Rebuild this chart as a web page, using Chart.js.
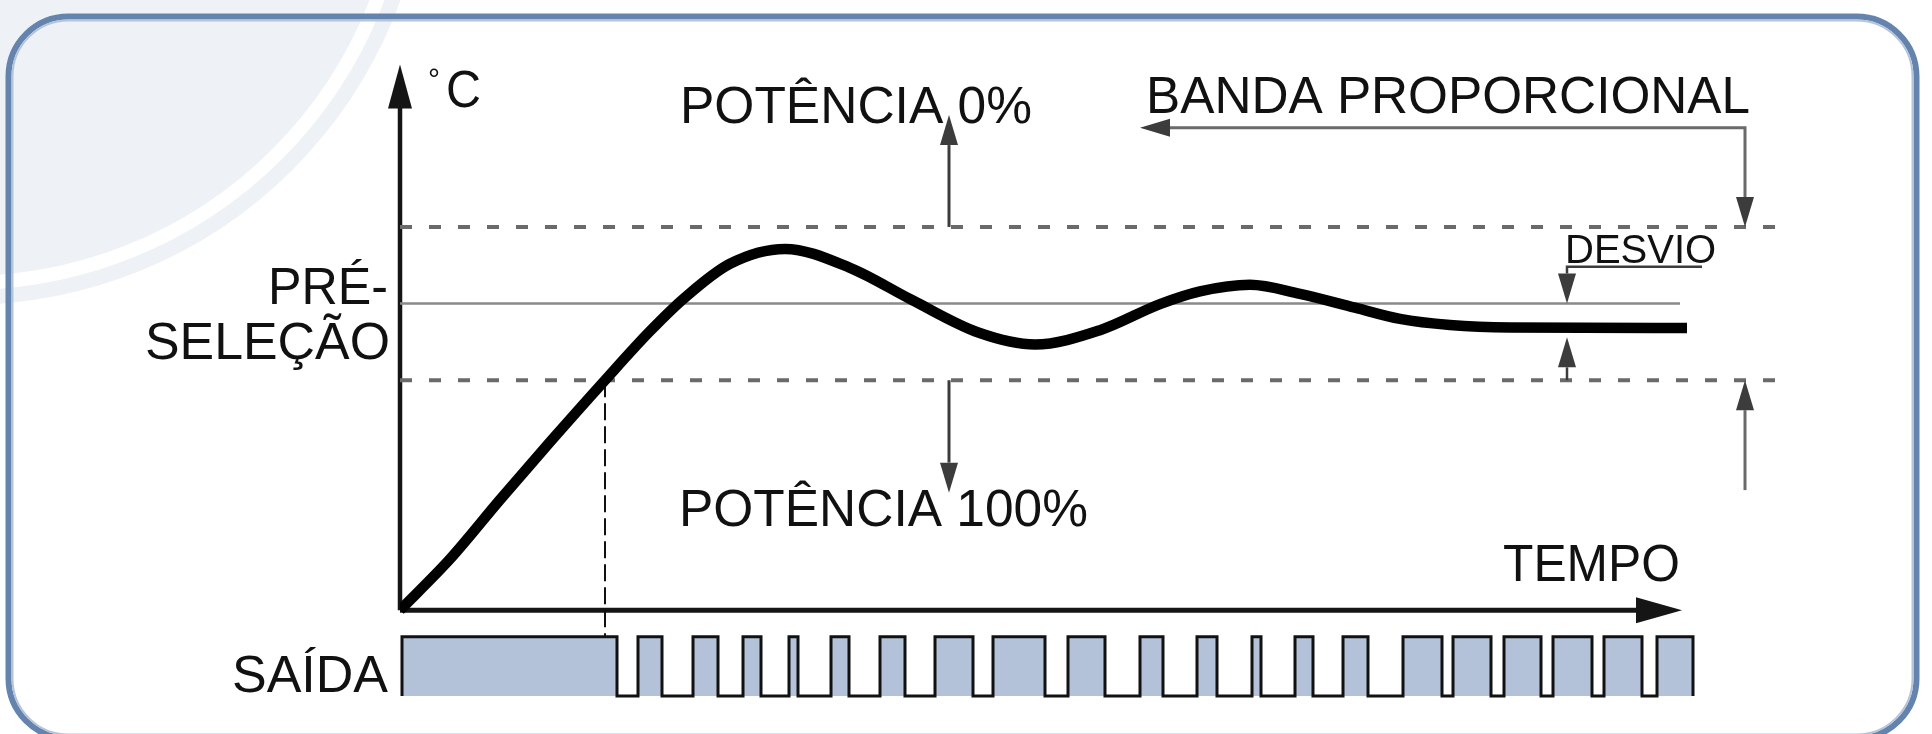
<!DOCTYPE html>
<html>
<head>
<meta charset="utf-8">
<script src="https://cdn.jsdelivr.net/npm/chart.js@4.4.1/dist/chart.umd.min.js"></script>
<style>
  html, body { margin: 0; padding: 0; background: #fff; }
  #wrap { width: 1932px; height: 734px; }
</style>
</head>
<body>
<div id="wrap"><canvas id="chart" width="1932" height="734"></canvas></div>
<script>
// Curva de temperatura (tempo em unidades arbitrárias, temperatura relativa)
const curveT = [0, 5, 10, 15, 20.5, 25, 28.5, 33, 38.5, 45, 51.2, 57.9, 63.5, 70, 76, 80, 85, 90, 95.5, 100, 105, 111, 128.7];
const curveV = [0, 10.0, 21.6, 32.9, 45, 54.6, 61.2, 67.8, 70.7, 67.0, 60.7, 54.3, 52.0, 54.8, 59.9, 62.4, 63.7, 61.9, 59.2, 57.0, 55.8, 55.3, 55.2];

// Saída: instantes em que liga / desliga
const pulseOn  = [0.2, 23.8, 29.3, 34.3, 38.9, 43.1, 48.0, 53.5, 59.3, 66.8, 74.0, 79.7, 85.2, 89.5, 94.3, 100.3, 105.3, 110.4, 115.3, 120.4, 125.7];
const pulseOff = [21.7, 26.2, 31.8, 36.1, 39.8, 44.9, 50.5, 57.3, 64.5, 70.5, 76.3, 81.7, 86.1, 91.3, 96.8, 104.2, 109.1, 114.1, 119.2, 124.2, 129.3];

// Níveis de referência
const setPoint = 60;
const bandHigh = 75;
const bandLow = 45;
const outHigh = -5.2;
const outLow = -16.8;
const crossT = 20.5;       // instante em que a curva entra na banda
const setPointEnd = 128.0;
const bandEnd = 137.8;
const timeEnd = 128.2;     // ponta da seta do eixo do tempo
const tempTop = 106.8;     // ponta da seta do eixo °C

// Textos
const labels = [
    { text: '°', t: 2.8, v: 102, size: 30 },
    { text: 'C', t: 4.6, v: 98.5, size: 52, w: 35 },
    { text: 'POTÊNCIA 0%', t: 28.0, v: 95.3, size: 52, w: 352 },
    { text: 'BANDA PROPORCIONAL', t: 74.6, v: 97.3, size: 52, w: 604 },
    { text: 'DESVIO', t: 116.5, v: 67.9, size: 40, w: 153 },
    { text: 'PRÉ-', t: -1.2, v: 59.9, size: 52, w: 120, align: 'right' },
    { text: 'SELEÇÃO', t: -1.0, v: 49.1, size: 52, w: 245, align: 'right' },
    { text: 'POTÊNCIA 100%', t: 27.9, v: 16.5, size: 52, w: 409 },
    { text: 'TEMPO', t: 128.0, v: 5.7, size: 52, w: 177, align: 'right' },
    { text: 'SAÍDA', t: -1.2, v: -16.0, size: 52, w: 167, align: 'right' }
];

const FONT = '"Liberation Sans", Arial, sans-serif';

// pontos da saída (onda quadrada)
const outPoints = [];
pulseOn.forEach((on, i) => {
    outPoints.push({ x: on, y: outLow }, { x: on, y: outHigh },
                   { x: pulseOff[i], y: outHigh }, { x: pulseOff[i], y: outLow });
});

const curvePoints = curveT.map((t, i) => ({ x: t, y: curveV[i] }));

function head(ctx, x, y, dir, len, half) {
    ctx.beginPath();
    ctx.moveTo(x, y);
    if (dir === 'up')    { ctx.lineTo(x - half, y + len); ctx.lineTo(x + half, y + len); }
    if (dir === 'down')  { ctx.lineTo(x - half, y - len); ctx.lineTo(x + half, y - len); }
    if (dir === 'left')  { ctx.lineTo(x + len, y - half); ctx.lineTo(x + len, y + half); }
    if (dir === 'right') { ctx.lineTo(x - len, y - half); ctx.lineTo(x - len, y + half); }
    ctx.closePath();
    ctx.fill();
}

function line(ctx, pts) {
    ctx.beginPath();
    ctx.moveTo(pts[0][0], pts[0][1]);
    for (let i = 1; i < pts.length; i++) ctx.lineTo(pts[i][0], pts[i][1]);
    ctx.stroke();
}

// Fundo: moldura arredondada e arco decorativo
const backdrop = {
    id: 'backdrop',
    beforeDraw(chart) {
        const ctx = chart.ctx;
        ctx.save();
        ctx.fillStyle = '#ffffff';
        ctx.fillRect(0, 0, chart.width, chart.height);
        ctx.fillStyle = '#eef1f5';
        ctx.beginPath();
        ctx.arc(-34, -157, 462, 0, Math.PI * 2);
        ctx.fill();
        ctx.strokeStyle = '#ffffff';
        ctx.lineWidth = 14;
        ctx.beginPath();
        ctx.arc(-34, -157, 440, 0, Math.PI * 2);
        ctx.stroke();

        ctx.strokeStyle = '#6584ad';
        ctx.lineWidth = 6;
        ctx.beginPath();
        ctx.roundRect(8.5, 16.5, 1908, 722, 60);
        ctx.stroke();
        ctx.strokeStyle = '#b4c4da';
        ctx.lineWidth = 2;
        ctx.beginPath();
        ctx.roundRect(12.5, 20.5, 1900, 714, 56);
        ctx.stroke();
        ctx.restore();
    }
};

// Eixos com setas
const axesArrows = {
    id: 'axesArrows',
    beforeDatasetsDraw(chart) {
        const ctx = chart.ctx;
        const X = v => chart.scales.x.getPixelForValue(v);
        const Y = v => chart.scales.y.getPixelForValue(v);
        ctx.save();
        ctx.strokeStyle = '#151515';
        ctx.fillStyle = '#151515';
        ctx.lineWidth = 4.5;
        line(ctx, [[X(0), Y(0)], [X(0), Y(tempTop) + 40]]);
        head(ctx, X(0), Y(tempTop), 'up', 44, 12);
        ctx.lineWidth = 5;
        line(ctx, [[X(0), Y(0)], [X(timeEnd) - 40, Y(0)]]);
        head(ctx, X(timeEnd), Y(0), 'right', 46, 13);
        ctx.restore();
    }
};

// Setas e textos explicativos
const notes = {
    id: 'notes',
    afterDatasetsDraw(chart) {
        const ctx = chart.ctx;
        const X = v => chart.scales.x.getPixelForValue(v);
        const Y = v => chart.scales.y.getPixelForValue(v);
        ctx.save();
        ctx.strokeStyle = '#3c3c3c';
        ctx.fillStyle = '#3c3c3c';
        ctx.lineWidth = 3;
        const L = 30, H = 9;

        // potência 0% / 100%
        line(ctx, [[X(54.9), Y(bandHigh)], [X(54.9), Y(96.9) + L]]);
        head(ctx, X(54.9), Y(96.9), 'up', L, H);
        line(ctx, [[X(54.9), Y(bandLow)], [X(54.9), Y(23.0) - L]]);
        head(ctx, X(54.9), Y(23.0), 'down', L, H);

        // banda proporcional
        ctx.strokeStyle = '#6a6a6a';
        line(ctx, [[X(74.0) + L, Y(94.4)], [X(134.5), Y(94.4)], [X(134.5), Y(bandHigh) - L]]);
        ctx.fillStyle = '#3c3c3c';
        head(ctx, X(74.0), Y(94.4), 'left', L, H);
        head(ctx, X(134.5), Y(bandHigh), 'down', L, H);
        line(ctx, [[X(134.5), Y(23.5)], [X(134.5), Y(bandLow) + L]]);
        head(ctx, X(134.5), Y(bandLow), 'up', L, H);

        // desvio
        ctx.strokeStyle = '#3c3c3c';
        ctx.lineWidth = 2.5;
        line(ctx, [[X(130.2), Y(67.2)], [X(116.7), Y(67.2)], [X(116.7), Y(setPoint) - L]]);
        head(ctx, X(116.7), Y(setPoint), 'down', L, H);
        line(ctx, [[X(116.7), Y(bandLow)], [X(116.7), Y(53.4) + L]]);
        head(ctx, X(116.7), Y(53.4), 'up', L, H);

        // textos
        ctx.fillStyle = '#111111';
        ctx.textBaseline = 'alphabetic';
        labels.forEach(lb => {
            ctx.font = lb.size + 'px ' + FONT;
            ctx.textAlign = lb.align || 'left';
            if (lb.w) ctx.fillText(lb.text, X(lb.t), Y(lb.v), lb.w);
            else ctx.fillText(lb.text, X(lb.t), Y(lb.v));
        });
        ctx.restore();
    }
};

new Chart(document.getElementById('chart'), {
    type: 'line',
    data: {
        datasets: [
            {
                label: 'Temperatura',
                data: curvePoints,
                borderColor: '#000000',
                borderWidth: 10.5,
                cubicInterpolationMode: 'monotone',
                borderCapStyle: 'butt',
                borderJoinStyle: 'round',
                pointRadius: 0,
                fill: false
            },
            {
                label: 'Pré-seleção',
                data: [{ x: 0, y: setPoint }, { x: setPointEnd, y: setPoint }],
                borderColor: '#8a8a8a',
                borderWidth: 2.5,
                pointRadius: 0,
                fill: false
            },
            {
                label: 'Banda sup.',
                data: [{ x: 0, y: bandHigh }, { x: bandEnd, y: bandHigh }],
                borderColor: '#6a6a6a',
                borderWidth: 4,
                borderDash: [12, 17],
                pointRadius: 0,
                fill: false
            },
            {
                label: 'Banda inf.',
                data: [{ x: 0, y: bandLow }, { x: bandEnd, y: bandLow }],
                borderColor: '#6a6a6a',
                borderWidth: 4,
                borderDash: [12, 17],
                pointRadius: 0,
                fill: false
            },
            {
                label: 'Corte',
                data: [{ x: crossT, y: bandLow }, { x: crossT, y: outHigh }],
                borderColor: '#111111',
                borderWidth: 2,
                borderDash: [17, 6],
                pointRadius: 0,
                fill: false
            },
            {
                label: 'Saída',
                data: outPoints,
                borderColor: '#111111',
                borderWidth: 3,
                borderJoinStyle: 'miter',
                backgroundColor: '#b3c2d8',
                pointRadius: 0,
                tension: 0,
                fill: { value: outLow }
            }
        ]
    },
    options: {
        responsive: false,
        animation: false,
        events: [],
        layout: {
            autoPadding: false,
            padding: { left: 400, right: 132, top: 64, bottom: 36 }
        },
        plugins: {
            legend: { display: false },
            tooltip: { enabled: false }
        },
        scales: {
            x: { type: 'linear', min: 0, max: 140, display: false },
            y: { type: 'linear', min: -17.2, max: 106.9, display: false }
        }
    },
    plugins: [backdrop, axesArrows, notes]
});
</script>
</body>
</html>
